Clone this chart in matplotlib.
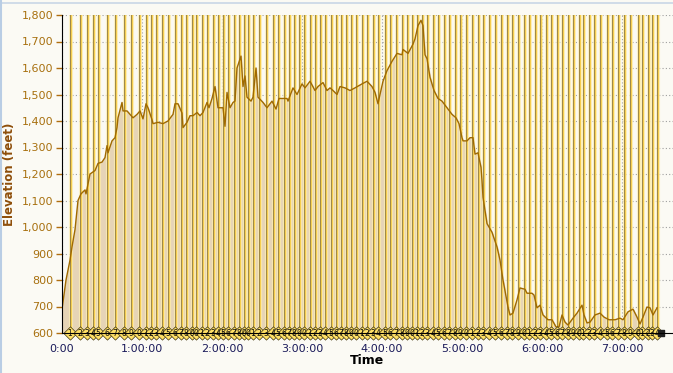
import matplotlib.pyplot as plt
from matplotlib.lines import Line2D
from matplotlib.ticker import FuncFormatter, MultipleLocator

# elevation profile: time in minutes, elevation in feet (10 per row)
time_min = [0, 3, 6, 7.5, 9.75, 12, 14.25, 17.25, 18, 21,
            24.75, 27, 30, 32.25, 33.75, 34.5, 37.5, 39.75, 41.25, 42,
            45, 45.75, 48.75, 51, 53.25, 56.25, 58.5, 60.75, 63, 64.5,
            67.5, 68.25, 72, 75.75, 79.5, 83.25, 84.75, 87, 90, 90.75,
            93.75, 96, 98.25, 101.25, 103.5, 105.75, 108.75, 110.25, 112.5, 114.75,
            117, 120.75, 122.25, 123.75, 126, 128.25, 129.75, 131.25, 134.25, 135.75,
            137.25, 138.75, 141.75, 143.25, 145.5, 147, 150.75, 153.75, 157.5, 160.5,
            162.75, 168.75, 169.5, 173.25, 176.25, 180, 182.25, 186, 189.75, 192,
            195.75, 198.75, 201, 203.25, 206.25, 208.5, 212.25, 216, 219.75, 225,
            228.75, 232.5, 234.75, 237, 238.5, 240.75, 243.75, 247.5, 251.25, 255,
            255.75, 259.5, 263.25, 264.75, 267, 269.25, 270.75, 272.25, 273.75, 276,
            279, 282, 285, 288.75, 292.5, 295.5, 297.75, 300, 300.75, 303.75,
            306, 308.25, 309.75, 312, 314.25, 315, 315.75, 318.75, 322.5, 326.25,
            328.5, 330.75, 334.5, 336, 338.25, 341.25, 343.5, 347.25, 348.75, 352.5,
            354, 356.25, 358.5, 360.75, 364.5, 367.5, 370.5, 372.75, 375, 377.25,
            379.5, 383.25, 386.25, 390, 391.5, 393.75, 396, 399.75, 403.5, 406.5,
            410.25, 414.75, 418.5, 420.75, 424.5, 428.25, 431.25, 433.5, 435.75, 438.75,
            441, 443.25, 446.25]
elevation = [690, 800, 875, 925, 990, 1100, 1125, 1140, 1125, 1200,
             1213, 1240, 1245, 1262, 1307, 1280, 1325, 1337, 1375, 1412,
             1470, 1438, 1438, 1425, 1412, 1425, 1438, 1408, 1465, 1450,
             1405, 1390, 1395, 1390, 1400, 1425, 1465, 1465, 1430, 1375,
             1395, 1420, 1420, 1432, 1420, 1432, 1470, 1450, 1485, 1530,
             1450, 1450, 1380, 1508, 1450, 1470, 1475, 1600, 1645, 1530,
             1570, 1490, 1475, 1490, 1600, 1490, 1470, 1450, 1475, 1445,
             1485, 1485, 1475, 1525, 1500, 1540, 1525, 1550, 1515, 1530,
             1545, 1515, 1525, 1515, 1500, 1530, 1525, 1515, 1525, 1540,
             1550, 1530, 1508, 1465, 1500, 1550, 1590, 1625, 1655, 1650,
             1670, 1655, 1690, 1710, 1760, 1780, 1760, 1650, 1635, 1565,
             1515, 1485, 1475, 1450, 1425, 1412, 1390, 1337, 1325, 1325,
             1337, 1337, 1275, 1280, 1225, 1175, 1112, 1013, 980, 925,
             875, 800, 698, 668, 675, 725, 770, 765, 750, 750,
             743, 695, 705, 668, 650, 650, 623, 623, 668, 641,
             630, 656, 675, 705, 668, 638, 641, 668, 675, 660,
             650, 650, 656, 650, 680, 690, 660, 634, 660, 698,
             695, 668, 695]

# lap split times (minutes)
lap_times = [6, 13.5, 18.8, 23.3, 27, 33.8, 39.8, 46.5, 51.8, 57.8,
             63, 66.8, 70.5, 75, 79.5, 84.8, 89.3, 93, 97.5, 100.5,
             105, 108.8, 113.3, 117, 120.8, 124.5, 129, 132.8, 136.5, 139.5,
             143.3, 147.8, 153, 158.3, 162, 166.5, 170.3, 174, 177.8, 181.5,
             186, 189.8, 193.5, 197.3, 201.8, 205.5, 209.3, 213, 216.8, 220.5,
             225, 228.8, 233.3, 237, 242.3, 246, 250.5, 255, 258.8, 262.5,
             266.3, 270, 273.8, 278.3, 282, 286.5, 290.3, 294.8, 298.5, 303,
             307.5, 312, 315.8, 320.3, 324.8, 329.3, 333.8, 337.5, 342, 346.5,
             350.3, 354.8, 358.5, 363, 366.8, 371.3, 375, 379.5, 383.3, 387.8,
             390.8, 395.3, 399, 403.5, 408.8, 412.5, 417, 421.5, 426, 432,
             435, 439.5, 442.5, 446.3]

hour_ticks = [0, 60, 120, 180, 240, 300, 360, 420]
hour_labels = ["0:00", "1:00:00", "2:00:00", "3:00:00", "4:00:00", "5:00:00", "6:00:00", "7:00:00"]

bg = "#FBFAF4"
fig = plt.figure(figsize=(6.73, 3.73), dpi=100, facecolor=bg)
ax = fig.add_axes([62 / 673, 1 - 333 / 373, 1 - 62 / 673, 318 / 373], facecolor=bg)

ax.set_xlim(0, 458.25)
ax.set_ylim(600, 1800)

# grid
ax.set_xticks(hour_ticks)
ax.set_xticklabels(hour_labels)
ax.yaxis.set_major_locator(MultipleLocator(100))
ax.yaxis.set_major_formatter(FuncFormatter(lambda v, p: f"{int(v):,}"))
ax.grid(True, color="#9E9E9E", linestyle=(0, (1, 2)), linewidth=0.8)
ax.set_axisbelow(True)

# elevation fill
ax.fill_between(time_min, elevation, 600, color="#E6D4B6", zorder=2)

# lap lines: pale halo, yellow band, olive core
for t in lap_times:
    ax.axvline(t + 0.5, color="#FFF1B8", lw=3.0, alpha=0.75, zorder=3)
    ax.axvline(t + 0.7, color="#F7CF50", lw=0.9, zorder=3)
    ax.axvline(t - 0.1, color="#A08A48", lw=0.75, zorder=3)

ax.plot(time_min, elevation, color="#A06A00", lw=1.0, zorder=4)

# lap markers along the bottom
ax.scatter(lap_times, [600] * len(lap_times), marker="D", s=46, facecolors="#FFE066",
           edgecolors="#3E3410", linewidths=0.5, zorder=6, clip_on=False)
for i, t in enumerate(lap_times):
    ax.text(t, 600, str((i + 1) % 10), fontsize=5.5, ha="center", va="center",
            color="#101010", zorder=7, clip_on=False)
ax.scatter([458.25 - 9], [600], marker="s", s=14, color="#202020", zorder=7, clip_on=False)

for s in ["top", "right"]:
    ax.spines[s].set_visible(False)
ax.spines["left"].set_color("black")
ax.spines["bottom"].set_color("black")
ax.spines["left"].set_zorder(8)
ax.spines["bottom"].set_zorder(8)

ax.tick_params(axis="y", colors="#B06E10", labelsize=8, length=4, width=1, pad=2)
ax.tick_params(axis="y", labelcolor="#A8700F")
ax.tick_params(axis="x", length=0, labelsize=8, labelcolor="#1A1A5A", pad=8)

ax.set_xlabel("Time", fontsize=9, fontweight="bold", color="black", labelpad=0)
ax.set_ylabel("Elevation (feet)", fontsize=8.5, fontweight="bold", color="#8E4E0A", labelpad=4)

# window frame
fig.add_artist(Line2D([0, 1], [1 - 3 / 373, 1 - 3 / 373], color="#C9D7E6", lw=1.2))
fig.add_artist(Line2D([0.0015, 0.0015], [0, 1], color="#B9CDE4", lw=1.5))

fig.savefig("out.png", dpi=100, facecolor=bg)
